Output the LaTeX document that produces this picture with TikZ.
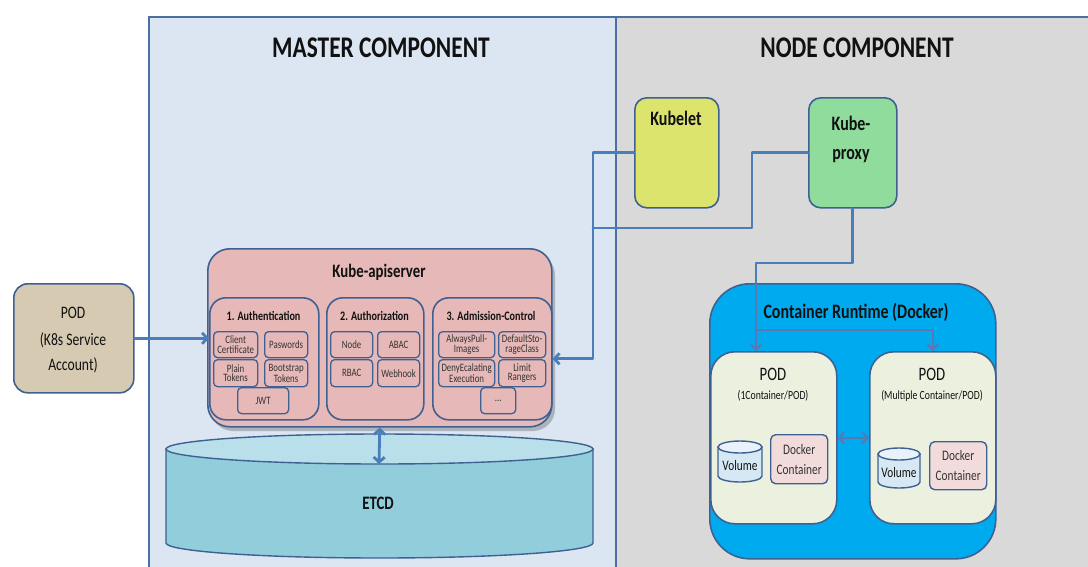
\documentclass[tikz,border=0pt]{standalone}
\usepackage{fontspec}
\setmainfont{Carlito}[FakeStretch=0.78]
\usetikzlibrary{arrows.meta,calc}
\definecolor{mfill}{HTML}{DCE6F2}
\definecolor{nfill}{HTML}{D9D9D9}
\definecolor{bord}{HTML}{3F6192}
\definecolor{pbord}{HTML}{4A6FA0}
\definecolor{lnk}{HTML}{4A7EBB}
\definecolor{lnkin}{HTML}{5B78B4}
\definecolor{podfill}{HTML}{D6CAB2}
\definecolor{apifill}{HTML}{E6B9B8}
\definecolor{kubeletfill}{HTML}{DCE46E}
\definecolor{proxyfill}{HTML}{90DC9C}
\definecolor{rtfill}{HTML}{00AAEE}
\definecolor{podg}{HTML}{EBF1DE}
\definecolor{dkfill}{HTML}{F2DCDB}
\definecolor{volbody}{HTML}{D6E8F4}
\definecolor{voltop}{HTML}{E9F2FA}
\definecolor{etcdbody}{HTML}{92CDDC}
\definecolor{etcdtop}{HTML}{B9DFEA}
\definecolor{txt}{HTML}{111111}
\definecolor{subtxt}{HTML}{333333}
\newcommand{\fsz}[1]{\fontsize{#1}{#1}\selectfont}
\newcommand{\drawcyl}[7]{%
  \path[draw=bord, line width=1.4pt, fill=#6]
    ({#1-#4},{#2}) -- ({#1-#4},{#3})
    arc[start angle=180, end angle=0, x radius=#4, y radius=#5]
    -- ({#1+#4},{#2}) -- cycle;
  \path[draw=bord, line width=1.4pt, fill=#7] ({#1},{#2}) ellipse[x radius=#4, y radius=#5];}
\tikzset{
  wh/.style 2 args={minimum width=#1pt, minimum height=#2pt},
  box/.style={draw=bord, line width=1.6pt, inner sep=0pt, anchor=north west},
  sub/.style={box, line width=1.3pt, rounded corners=4pt, fill=apifill, align=center,
    font=\fontsize{11.3}{9.5}\selectfont, text=subtxt},
  grp/.style={box, rounded corners=16pt, fill=apifill},
  ttl/.style={font=\bfseries\fsz{30}, text=txt},
  lbl/.style={anchor=base, inner sep=0pt, text=txt},
  conn/.style={draw=lnk, line width=2.8pt, line cap=round, line join=round},
  connin/.style={draw=lnkin, line width=2.3pt, line join=round},
  >={Straight Barb[length=5pt, width=11pt]}
}
\begin{document}
\begin{tikzpicture}[x=1pt, y=-1pt]
\useasboundingbox (0,0) rectangle (1088,566);
\fill[white] (0,0) rectangle (1088,566);

% panels
\node[box, draw=pbord, line width=1.5pt, fill=mfill, wh={467}{560}] (master) at (148,16) {};
\node[box, draw=pbord, line width=1.5pt, fill=nfill, wh={480}{560}] (nodep) at (615,16) {};
\node[ttl] (mtitle) at (381,47.5) {MASTER COMPONENT};
\node[ttl] (ntitle) at (857,47.5) {NODE COMPONENT};

% left POD
\node[box, rounded corners=14pt, fill=podfill, wh={120}{109}] (podsa) at (13,283) {};
\node[lbl, font=\fsz{17.5}] (podsa1) at (73,318) {POD};
\node[lbl, font=\fsz{17.5}] (podsa2) at (73,345) {(K8s Service};
\node[lbl, font=\fsz{17.5}] (podsa3) at (73,370) {Account)};

% kube-apiserver
\fill[black, opacity=0.22, rounded corners=22pt] (211,253) rectangle (555,431);
\node[box, rounded corners=22pt, fill=apifill, wh={344}{178}] (api) at (207,248) {};
\node[lbl, font=\bfseries\fsz{19}] (apititle) at (379,277.5) {Kube-apiserver};

\node[grp, wh={109}{122}] (auth) at (209,297) {};
\node[grp, wh={97}{122}] (authz) at (326,297) {};
\node[grp, wh={119}{122}] (adm) at (432,297) {};
\node[lbl, font=\bfseries\fsz{13}] (autht) at (263.5,320) {1. Authentication};
\node[lbl, font=\bfseries\fsz{13}] (authzt) at (374.5,320) {2. Authorization};
\node[lbl, font=\bfseries\fsz{13}] (admt) at (491,320) {3. Admission-Control};

\node[sub, wh={44}{26}] (cc) at (213,331) {Client\\Certificate};
\node[sub, wh={43}{26}] (pw) at (264,331) {Paswords};
\node[sub, wh={44}{27}] (pt) at (213,359) {Plain\\Tokens};
\node[sub, wh={43}{27}] (bt) at (264,359) {Bootstrap\\Tokens};
\node[sub, wh={51}{26}] (jwt) at (237,387) {JWT};

\node[sub, wh={42}{26}] (nd) at (330,331) {Node};
\node[sub, wh={42}{26}] (abac) at (377,331) {ABAC};
\node[sub, wh={42}{27}] (rbac) at (330,359) {RBAC};
\node[sub, wh={42}{27}] (whk) at (377,359) {Webhook};

\node[sub, wh={56}{26}] (ap) at (438,331) {AlwaysPull-\\Images};
\node[sub, wh={47}{26}] (ds) at (498,331) {DefaultSto-\\rageClass};
\node[sub, wh={56}{27}] (de) at (438,359) {DenyEcalating\\Execution};
\node[sub, wh={47}{27}] (lr) at (498,359) {Limit\\Rangers};
\node[sub, wh={35}{26}] (dots) at (480,387) {...};

% ETCD
\drawcyl{379.5}{449}{543}{213.5}{15}{etcdbody}{etcdtop}
\coordinate (etcdtopc) at (379,464);
\node[font=\bfseries\fsz{19}, text=txt] (etcd) at (378,503) {ETCD};

% node component boxes
\node[box, rounded corners=12pt, fill=kubeletfill, wh={84}{110}] (kubelet) at (634,97) {};
\node[lbl, font=\bfseries\fsz{20.5}] (kubeletl) at (676,125) {Kubelet};
\node[box, rounded corners=12pt, fill=proxyfill, wh={88}{110}] (proxy) at (808,97) {};
\node[lbl, font=\bfseries\fsz{20.5}] (proxyl1) at (851,130) {Kube-};
\node[lbl, font=\bfseries\fsz{20.5}] (proxyl2) at (851,159) {proxy};

\node[box, rounded corners=40pt, fill=rtfill, wh={286}{275}] (rt) at (709,283) {};
\node[lbl, font=\bfseries\fsz{20.5}] (rtl) at (856,318) {Container Runtime (Docker)};

\node[box, rounded corners=24pt, fill=podg, wh={126}{172}] (pod1) at (710,351) {};
\node[box, rounded corners=24pt, fill=podg, wh={126}{172}] (pod2) at (869,351) {};
\node[lbl, font=\fsz{19}] (pod1t) at (773,380) {POD};
\node[lbl, font=\fsz{12.5}] (pod1s) at (773,399) {(1Container/POD)};
\node[lbl, font=\fsz{19}] (pod2t) at (932,380) {POD};
\node[lbl, font=\fsz{12.5}] (pod2s) at (932,399) {(Multiple Container/POD)};

\drawcyl{740}{447}{476}{22}{6}{volbody}{voltop}
\node[font=\fsz{14.5}, text=txt] (vol1) at (740,466) {Volume};
\drawcyl{899}{454}{482}{21}{6}{volbody}{voltop}
\node[font=\fsz{14.5}, text=txt] (vol2) at (899,473) {Volume};

\node[box, line width=1.4pt, rounded corners=5pt, fill=dkfill, wh={57}{49}, align=center,
  font=\fontsize{14.5}{20}\selectfont, text=subtxt] (dk1) at (770,434) {Docker\\Container};
\node[box, line width=1.4pt, rounded corners=5pt, fill=dkfill, wh={57}{48}, align=center,
  font=\fontsize{14.5}{20}\selectfont, text=subtxt] (dk2) at (929,441) {Docker\\Container};

% connectors
\coordinate (jx) at (593,228);
\coordinate (pb) at (752,228);
\coordinate (rtb) at (756,263);
\coordinate (br) at (756,330);

\draw[conn, ->] (podsa.east) -- (podsa.east -| auth.west);
\draw[conn, ->] (kubelet.west) -| (jx) |- (adm.east);
\draw[conn] (proxy.west) -| (pb) -- (jx);
\draw[conn] (proxy.south) |- (rtb) -- (rtb |- rt.north);
\draw[connin, ->] (rtb |- rt.north) -- (rtb |- pod1.north);
\draw[connin, ->] (br) -| (pod2.north);
\draw[connin, <->] (pod1.east) -- (pod2.west);
\draw[conn, <->] (api.south) -- (etcdtopc);
\end{tikzpicture}
\end{document}
